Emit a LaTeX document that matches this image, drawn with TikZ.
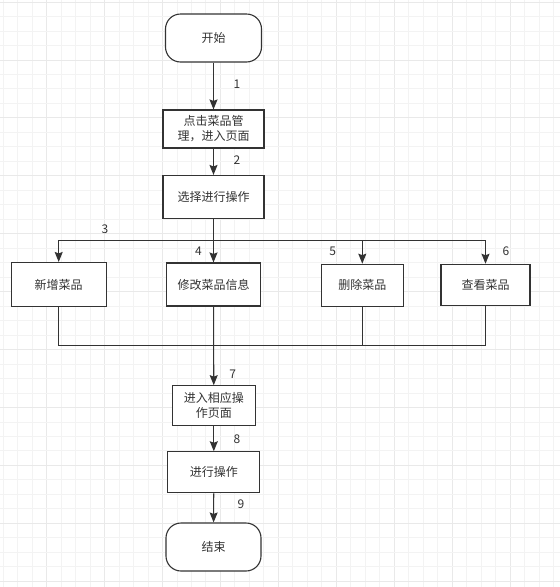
\documentclass[tikz,border=0pt]{standalone}
\usepackage{fontspec}
\setmainfont{Noto Sans CJK SC}
\usetikzlibrary{arrows.meta}
\definecolor{ln}{HTML}{333333}
\definecolor{gmin}{HTML}{F3F3F3}
\definecolor{gmaj}{HTML}{E9E9E9}
\begin{document}
\begin{tikzpicture}[x=1pt,y=-1pt,
  font=\fontsize{12}{15}\selectfont,
  every node/.style={text=ln},
  boxn/.style={draw=ln,line width=1.1pt,fill=white,minimum width=#1,align=center,inner sep=1pt},
  boxn/.default=100pt,
  term/.style={draw=ln,line width=1.1pt,fill=white,rounded corners=15pt,minimum width=96pt,minimum height=48pt},
  conn/.style={draw=ln,line width=1.1pt},
  arr/.style={conn,-{Stealth[length=10pt,width=8pt,inset=1.5pt]}},
  num/.style={font=\fontsize{12}{14}\selectfont,text=ln}]
\useasboundingbox (0,0) rectangle (560,587);
\fill[white] (0,0) rectangle (560,587);
% grid
\foreach \i in {0,...,38}{
  \pgfmathsetmacro{\gx}{3.26+\i*14.48}
  \pgfmathtruncatemacro{\mm}{mod(\i,4)}
  \ifnum\mm=3 \draw[gmaj,line width=1pt] (\gx,0) -- (\gx,587);
  \else \draw[gmin,line width=1pt] (\gx,0) -- (\gx,587); \fi
}
\foreach \i in {0,...,40}{
  \pgfmathsetmacro{\gy}{2.08+\i*14.48}
  \pgfmathtruncatemacro{\mm}{mod(\i,4)}
  \ifnum\mm=0 \draw[gmaj,line width=1pt] (0,\gy) -- (560,\gy);
  \else \draw[gmin,line width=1pt] (0,\gy) -- (560,\gy); \fi
}
% nodes
\node[term] (start) at (213.5,38) {开始};
\node[boxn=101pt,minimum height=38pt] (mgr) at (213.5,129) {点击菜品管\\理，进入页面};
\node[boxn=101pt,minimum height=43pt] (sel) at (213.5,197) {选择进行操作};
\node[boxn=95pt,minimum height=44pt] (add) at (58.7,284.5) {新增菜品};
\node[boxn=94pt,minimum height=43pt] (mod) at (213.5,284.5) {修改菜品信息};
\node[boxn=82pt,minimum height=42pt] (del) at (362.3,285.2) {删除菜品};
\node[boxn=89pt,minimum height=41pt] (view) at (485.5,284.8) {查看菜品};
\node[boxn=83pt,minimum height=40pt] (enter) at (213.8,405.7) {进入相应操\\作页面};
\node[boxn=92pt,minimum height=41pt] (do) at (213.8,472.3) {进行操作};
\node[term,minimum width=95pt] (end) at (213.5,547) {结束};
\coordinate (split) at (213.5,240.7);
\coordinate (merge) at (213.5,345.7);
% connectors
\draw[arr] (start) -- (mgr);
\draw[arr] (mgr) -- (sel);
\draw[arr] (sel) -- (mod);
\draw[arr] (split) -| (add);
\draw[arr] (split) -| (del);
\draw[arr] (split) -| (view);
\draw[conn] (add) |- (merge);
\draw[conn] (del) |- (merge);
\draw[conn] (view) |- (merge);
\draw[arr] (mod) -- (enter);
\draw[arr] (enter) -- (do);
\draw[arr] (do) -- (end);
% labels
\node[num] (l1) at (237,84) {1};
\node[num] (l2) at (237,160) {2};
\node[num] (l3) at (105,229.7) {3};
\node[num] (l4) at (198.5,251.3) {4};
\node[num] (l5) at (332.7,251) {5};
\node[num] (l6) at (506,251) {6};
\node[num] (l7) at (232.7,374.3) {7};
\node[num] (l8) at (237,439.3) {8};
\node[num] (l9) at (241,504.3) {9};
\end{tikzpicture}
\end{document}
